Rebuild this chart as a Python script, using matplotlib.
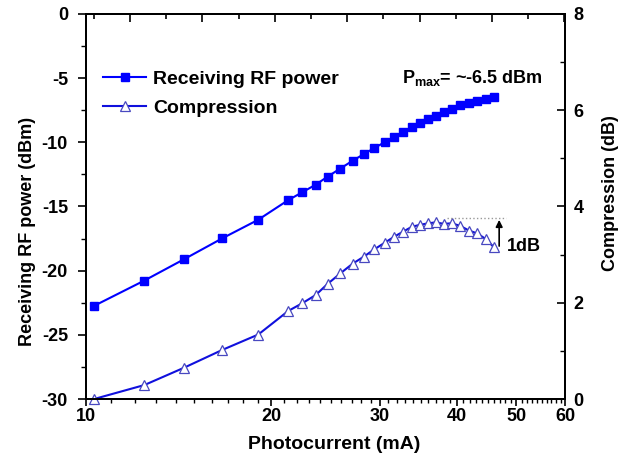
import matplotlib
matplotlib.use("Agg")
import matplotlib.pyplot as plt
from matplotlib.ticker import FixedLocator, FixedFormatter, NullFormatter, MultipleLocator

plt.rcParams['font.family'] = ['Liberation Sans', 'DejaVu Sans']
plt.rcParams['font.weight'] = 'bold'
plt.rcParams['axes.unicode_minus'] = False
plt.rcParams['mathtext.fontset'] = 'custom'
plt.rcParams['mathtext.rm'] = 'Liberation Sans:bold'
plt.rcParams['mathtext.bf'] = 'Liberation Sans:bold'

# photocurrent (mA)
current = [10.31, 12.44, 14.43, 16.65, 19.05, 21.31, 22.46, 23.61, 24.68, 25.89,
           27.10, 28.29, 29.40, 30.60, 31.65, 32.77, 33.85, 34.92, 35.93, 36.99,
           38.11, 39.27, 40.50, 41.89, 43.21, 44.65, 46.01]
# receiving RF power (dBm)
rf_power = [-22.74, -20.77, -19.11, -17.48, -16.03, -14.50, -13.89, -13.30, -12.68, -12.04,
            -11.44, -10.91, -10.44, -9.98, -9.56, -9.17, -8.78, -8.47, -8.21, -7.93,
            -7.66, -7.38, -7.12, -6.91, -6.76, -6.63, -6.49]
# compression (dB)
compression = [0.0, 0.29, 0.65, 1.02, 1.34, 1.83, 1.99, 2.16, 2.39, 2.61,
               2.81, 2.96, 3.11, 3.25, 3.37, 3.48, 3.58, 3.62, 3.65, 3.67,
               3.64, 3.65, 3.60, 3.50, 3.44, 3.32, 3.15]

bottom_ticks = [10, 20, 30, 40, 50, 60]
minor_ticks = [x for x in range(11, 60) if x not in bottom_ticks]

fig = plt.figure(figsize=(6.29, 4.57), dpi=100)
ax = fig.add_axes([0.1367, 0.1269, 0.7616, 0.8425])
axr = ax.twinx()
axt = ax.twiny()

l1, = ax.plot(current, rf_power, color='#0000ff', lw=1.5, marker='s', ms=6,
              mec='#0000ff', mfc='#0000ff', label='Receiving RF power')
l2, = axr.plot(current, compression, color='#1010dd', lw=1.5, marker='^', ms=7.5,
               mec='#4848c0', mfc='white', mew=0.9, label='Compression', clip_on=False)

ax.set_xscale('log')
ax.set_xlim(10, 60)
ax.set_ylim(-30, 0)
axr.set_ylim(0, 8)
ax.xaxis.set_major_locator(FixedLocator(bottom_ticks))
ax.xaxis.set_minor_locator(FixedLocator(minor_ticks))
ax.xaxis.set_major_formatter(FixedFormatter([str(t) for t in bottom_ticks]))
ax.xaxis.set_minor_formatter(NullFormatter())
ax.yaxis.set_major_locator(MultipleLocator(5))
ax.yaxis.set_minor_locator(MultipleLocator(2.5))
axr.yaxis.set_major_locator(MultipleLocator(2))
axr.yaxis.set_minor_locator(MultipleLocator(1))

# top axis: plain linear ticks, no labels
axt.set_xlim(-0.608, 6.008)
axt.xaxis.set_major_locator(MultipleLocator(1))
axt.xaxis.set_minor_locator(MultipleLocator(0.5))
axt.tick_params(axis='x', which='both', direction='in', labeltop=False, width=1.2)
axt.tick_params(axis='x', which='major', length=6)
axt.tick_params(axis='x', which='minor', length=3.5)

ax.tick_params(axis='x', which='major', direction='out', length=5, width=1.2, labelsize=13, pad=1.5)
ax.tick_params(axis='x', which='minor', direction='out', length=3, width=1.0)
ax.tick_params(axis='y', which='major', direction='out', length=6, width=1.2, labelsize=13, pad=7)
ax.tick_params(axis='y', which='minor', direction='out', length=3.5, width=1.0)
axr.tick_params(axis='y', which='major', direction='in', length=6, width=1.2, labelsize=13, pad=6)
axr.tick_params(axis='y', which='minor', direction='in', length=3.5, width=1.0)

for a in (ax, axr, axt):
    for s in a.spines.values():
        s.set_linewidth(1.3)

ax.set_xlabel('Photocurrent (mA)', fontsize=14, fontweight='bold')
ax.set_ylabel('Receiving RF power (dBm)', fontsize=13, fontweight='bold')
axr.set_ylabel('Compression (dB)', fontsize=13, fontweight='bold')
ax.xaxis.set_label_coords(0.519, -0.095)
ax.yaxis.set_label_coords(-0.104, 0.436)
axr.yaxis.set_label_coords(1.077, 0.535)

# 1 dB marker
axr.plot([38.6, 48.1], [3.76, 3.76], color='#999999', lw=1.0, ls=':')
axr.annotate('', xy=(46.9, 3.78), xytext=(46.9, 3.12),
             arrowprops=dict(arrowstyle='-|>', color='black', lw=1.2, mutation_scale=10))
axr.text(48.3, 3.16, '1dB', fontsize=13, fontweight='bold', va='center', ha='left')

ax.text(32.6, -5.0, r'P$_{\rm max}$= ~-6.5 dBm', fontsize=13, fontweight='bold',
        va='center', ha='left')

leg = ax.legend(handles=[l1, l2], loc='upper left', bbox_to_anchor=(0.0, 0.9),
                frameon=False, fontsize=14, handlelength=2.2, handletextpad=0.35,
                labelspacing=0.6)
for t in leg.get_texts():
    t.set_fontweight('bold')

fig.savefig('out.png', dpi=100)
